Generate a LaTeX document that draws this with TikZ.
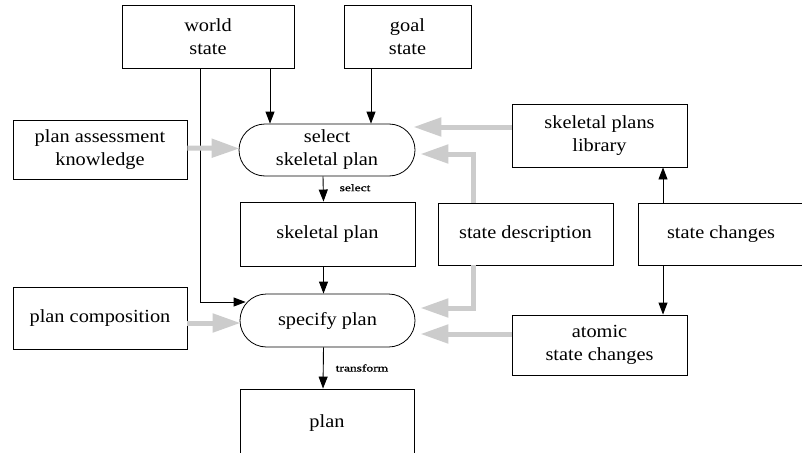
\documentclass[tikz,border=0pt]{standalone}
\usepackage{fontspec}
\setmainfont{Liberation Serif}[FakeStretch=1.1]
\newfontfamily\labfont[FakeStretch=1.35,FakeBold=1.2]{Liberation Serif}
\usetikzlibrary{arrows.meta,shapes.misc,calc}
\begin{document}
\begin{tikzpicture}[x=1pt,y=-1pt,
  box/.style={draw,line width=0.9pt,rectangle,inner sep=0pt,align=center,
    font=\fontsize{18.5}{23}\selectfont},
  pill/.style={draw,line width=0.8pt,rounded rectangle,inner sep=0pt,align=center,
    font=\fontsize{18.5}{23}\selectfont},
  blk/.style={line width=0.9pt,-{Triangle[width=9pt,length=12pt]}},
  gry/.style={line width=5pt,draw=black!20,-{Triangle[width=18pt,length=28pt]},shorten >=0pt},
  lab/.style={font=\labfont\fontsize{10}{11}\selectfont,inner sep=0pt}]
\clip (0,0) rectangle (802,452);
\fill[white] (0,0) rectangle (802,452);
% nodes
\node[box,minimum width=172pt,minimum height=63pt] (world) at (208,36.5) {world\\state};
\node[box,minimum width=127pt,minimum height=63pt] (goal) at (407.5,36.5) {goal\\state};
\node[box,minimum width=174pt,minimum height=59pt] (pak) at (100,149.5) {plan assessment\\knowledge};
\node[pill,minimum width=176pt,minimum height=52pt] (sel) at (327,150) {select\\skeletal plan};
\node[box,minimum width=175pt,minimum height=63pt] (lib) at (599.5,135.5) {skeletal plans\\library};
\node[box,minimum width=175pt,minimum height=64pt] (skel) at (327.5,234) {skeletal plan};
\node[box,minimum width=175pt,minimum height=62pt] (sdesc) at (525.5,234) {state description};
\node[box,minimum width=166pt,minimum height=62pt] (schg) at (721,234) {state changes};
\node[box,minimum width=174pt,minimum height=62pt] (pcomp) at (100,318) {plan composition};
\node[pill,minimum width=175pt,minimum height=53pt] (spec) at (327.5,320.5) {specify plan};
\node[box,minimum width=175pt,minimum height=60pt] (atom) at (599.5,345) {atomic\\state changes};
\node[box,minimum width=174pt,minimum height=68pt] (plan) at (327,423) {plan};
% coordinates
\coordinate (wsA) at ($(world.south)+(62,0)$);
\coordinate (wsB) at ($(world.south)+(-8,0)$);
\coordinate (wsT) at ($(spec.west)+(6,-18.5)$);
\coordinate (gsA) at ($(goal.south)+(-36.5,0)$);
\coordinate (sdT) at ($(sdesc.north)+(-52.5,0)$);
\coordinate (sdB) at ($(sdesc.south)+(-52.5,0)$);
\coordinate (scT) at ($(schg.north)+(-58,0)$);
\coordinate (scB) at ($(schg.south)+(-58,0)$);
% black arrows
\draw[blk] (wsA) -- (wsA |- sel.north);
\draw[blk] (gsA) -- (gsA |- sel.north);
\draw[blk] (wsB) |- (wsT);
\draw[blk] ($(sel.south)+(-4,0)$) -- ($(skel.north)+(-4,0)$) node[lab,pos=0.45,right=16pt] (sellab) {select};
\draw[blk] ($(skel.south)+(-4,0)$) -- ($(spec.north)+(-4,0)$);
\draw[blk] ($(spec.south)+(-4,0)$) -- ($(plan.north)+(-4,0)$) node[lab,pos=0.5,right=12pt] (tlab) {transform};
\draw[blk] (scT) -- (scT |- lib.south);
\draw[blk] (scB) -- (scB |- atom.north);
% gray arrows
\draw[gry] ($(pak.east)+(0,-1.5)$) -- ($(sel.west)+(1,-1.5)$);
\draw[gry] ($(pcomp.east)+(0,5)$) -- ($(spec.west)+(1,2.5)$);
\draw[gry] ($(lib.west)+(0,-8.5)$) -- ($(sel.east)+(-2,-23)$);
\draw[gry] (sdT) |- ($(sel.east)+(5,4)$);
\draw[gry] (sdB) |- ($(spec.east)+(5,-12.5)$);
\draw[gry] ($(atom.west)+(0,-11)$) -- ($(spec.east)+(5,13.5)$);
\end{tikzpicture}
\end{document}
